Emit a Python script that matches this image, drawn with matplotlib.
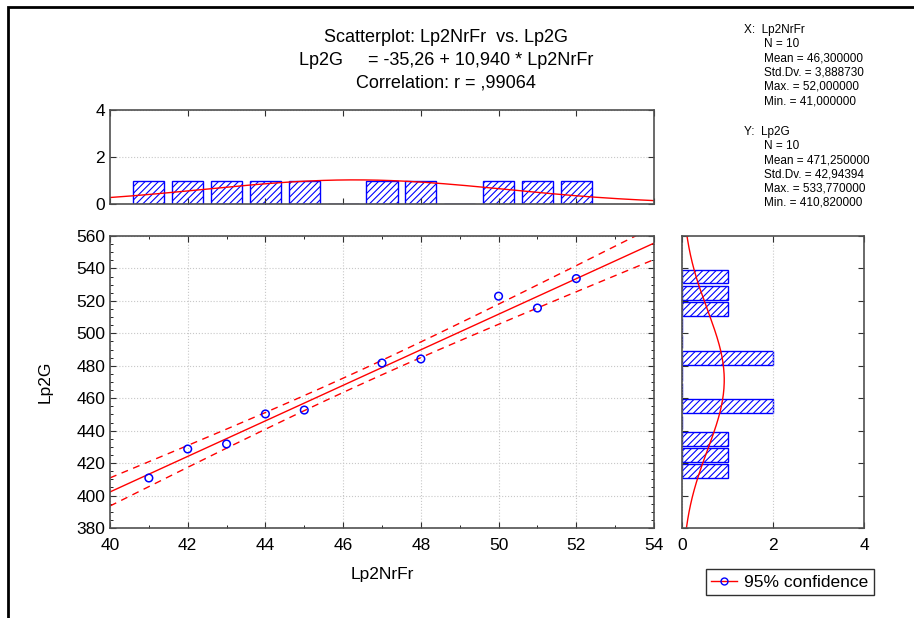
import numpy as np
import matplotlib
matplotlib.use("Agg")
import matplotlib.pyplot as plt
from matplotlib.lines import Line2D
from matplotlib.patches import Rectangle

plt.rcParams['font.family'] = ['Liberation Sans', 'DejaVu Sans']
plt.rcParams['hatch.color'] = 'blue'
plt.rcParams['hatch.linewidth'] = 0.8

# data
lp2nrfr = [41, 42, 43, 44, 45, 47, 48, 50, 51, 52]
lp2g = [410.82, 428.7, 431.8, 450.3, 452.7, 481.7, 484.2, 522.9, 515.6, 533.77]

x_bins = [40.5, 41.5, 42.5, 43.5, 44.5, 45.5, 46.5, 47.5, 48.5, 49.5, 50.5, 51.5, 52.5]
y_bins = [410, 420, 430, 440, 450, 460, 470, 480, 490, 500, 510, 520, 530, 540]

title_lines = ["Scatterplot: Lp2NrFr  vs. Lp2G",
               "Lp2G     = -35,26 + 10,940 * Lp2NrFr",
               "Correlation: r = ,99064"]
x_stats = ["X:  Lp2NrFr", "N = 10", "Mean = 46,300000", "Std.Dv. = 3,888730",
           "Max. = 52,000000", "Min. = 41,000000"]
y_stats = ["Y:  Lp2G", "N = 10", "Mean = 471,250000", "Std.Dv. = 42,94394",
           "Max. = 533,770000", "Min. = 410,820000"]

x = np.array(lp2nrfr, dtype=float)
y = np.array(lp2g, dtype=float)
n = len(x)

fig = plt.figure(figsize=(9.14, 6.18), dpi=100)
W, H = 914, 618
FS = 12.5

def box(l, t, r, b):
    return [l / W, 1 - b / H, (r - l) / W, (b - t) / H]

ax = fig.add_axes(box(110, 236, 654, 528))
axt = fig.add_axes(box(110, 110, 654, 204))
axr = fig.add_axes(box(682, 236, 864, 528))

spine_col = '#505050'
for a in (ax, axt, axr):
    for s in a.spines.values():
        s.set_color(spine_col)
        s.set_linewidth(1.2)
    a.tick_params(direction='in', top=True, right=True, labelsize=FS,
                  color='#303030', length=4)
    a.tick_params(which='minor', direction='in', top=True, right=True, length=2.5)

# regression + 95% confidence band
b1, b0 = np.polyfit(x, y, 1)
xx = np.linspace(40, 54, 200)
yy = b0 + b1 * xx
resid = y - (b0 + b1 * x)
s = np.sqrt(np.sum(resid ** 2) / (n - 2))
sxx = np.sum((x - x.mean()) ** 2)
tval = 2.306
half = tval * s * np.sqrt(1 / n + (xx - x.mean()) ** 2 / sxx)

ax.plot(xx, yy, color='red', lw=1)
ax.plot(xx, yy + half, color='red', lw=1, ls=(0, (5, 4)))
ax.plot(xx, yy - half, color='red', lw=1, ls=(0, (5, 4)))
ax.scatter(x, y, s=30, facecolors='none', edgecolors='blue', linewidths=1.1, zorder=3)
ax.set_xlim(40, 54)
ax.set_ylim(380, 560)
ax.set_xticks(np.arange(40, 55, 2))
ax.set_xticks(np.arange(41, 54, 2), minor=True)
ax.set_yticks(np.arange(380, 561, 20))
ax.set_yticks(np.arange(380, 561, 5), minor=True)
ax.grid(True, which='major', color='#c8c8c8', ls=':', lw=0.8)
ax.set_xlabel("Lp2NrFr", fontsize=FS, labelpad=10)
ax.set_ylabel("Lp2G", fontsize=FS)
ax.yaxis.set_label_coords(-0.105, 0.5)
ax.tick_params(axis='x', pad=7)

# top histogram
cnt, edges = np.histogram(x, bins=x_bins)
centers = (edges[:-1] + edges[1:]) / 2
axt.bar(centers, cnt, width=0.8, facecolor='white', edgecolor='blue',
        hatch='/////', lw=1)
xs = np.linspace(40, 54, 200)
sdx = x.std(ddof=1)
axt.plot(xs, n * 1.0 / (sdx * np.sqrt(2 * np.pi)) * np.exp(-0.5 * ((xs - x.mean()) / sdx) ** 2),
         color='red', lw=1)
axt.set_xlim(40, 54)
axt.set_ylim(0, 4)
axt.set_yticks([0, 2, 4])
axt.set_xticks(np.arange(40, 55, 2))
axt.tick_params(axis='x', labelbottom=False)
axt.grid(True, axis='y', color='#c8c8c8', ls=':', lw=0.8)

# right histogram
cnt, edges = np.histogram(y, bins=y_bins)
centers = (edges[:-1] + edges[1:]) / 2
axr.barh(centers, cnt, height=8.5, facecolor='white', edgecolor='blue',
         hatch='/////', lw=1)
ys = np.linspace(380, 560, 200)
sdy = y.std(ddof=1)
axr.plot(n * 10.0 / (sdy * np.sqrt(2 * np.pi)) * np.exp(-0.5 * ((ys - y.mean()) / sdy) ** 2),
         ys, color='red', lw=1)
axr.set_ylim(380, 560)
axr.set_xlim(0, 4)
axr.set_xticks([0, 2, 4])
axr.set_yticks(np.arange(380, 561, 20))
axr.tick_params(axis='y', labelleft=False)
axr.tick_params(axis='x', pad=7)
axr.grid(True, axis='x', color='#c8c8c8', ls=':', lw=0.8)

# titles
for i, line in enumerate(title_lines):
    fig.text(446 / W, 1 - (38 + i * 22.5) / H, line, ha='center', va='center', fontsize=13)

# stats
for i, line in enumerate(x_stats):
    fig.text((744 if i == 0 else 764) / W, 1 - (30 + i * 14.2) / H, line,
             ha='left', va='center', fontsize=8.5)
for i, line in enumerate(y_stats):
    fig.text((744 if i == 0 else 764) / W, 1 - (132 + i * 14.2) / H, line,
             ha='left', va='center', fontsize=8.5)

# legend
handle = Line2D([], [], color='red', lw=1, marker='o', markerfacecolor='none',
                markeredgecolor='blue', markersize=5)
fig.legend([handle], ["95% confidence"], loc='center',
           bbox_to_anchor=(790 / W, 1 - 582 / H), fontsize=FS, frameon=True,
           fancybox=False, edgecolor='#303030', handlelength=1.5,
           handletextpad=0.4, borderpad=0.3, framealpha=1)

# outer frame
fig.patches.append(Rectangle((8 / W, -0.1), 1.2, 1 - 7 / H + 0.1, transform=fig.transFigure,
                             fill=False, edgecolor='black', lw=2))

fig.savefig("out.png", dpi=100)
